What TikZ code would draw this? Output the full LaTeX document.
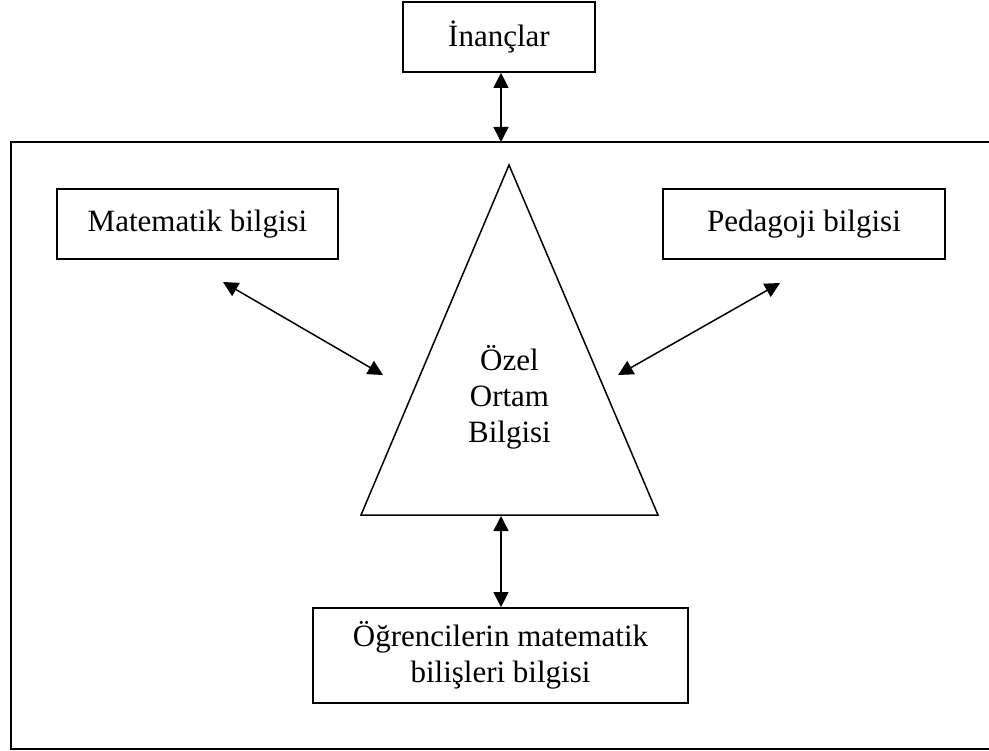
\documentclass[tikz,border=0pt]{standalone}
\usepackage{fontspec}
\setmainfont{Liberation Serif}
\usetikzlibrary{arrows.meta}
\begin{document}
\begin{tikzpicture}[x=1pt,y=-1pt,
  box/.style={draw,line width=1.8pt,inner sep=0pt,align=center,font=\fontsize{31}{36}\selectfont},
  lbl/.style={inner sep=0pt,align=center,font=\fontsize{31}{36}\selectfont},
  conn/.style={line width=1.5pt,{Triangle[length=15pt,width=15pt]}-{Triangle[length=15pt,width=15pt]}}]
\useasboundingbox (0,0) rectangle (989,751);
\fill[white] (0,0) rectangle (989,751);
% outer frame
\draw[line width=1.8pt] (11,142) rectangle (992,749);
% boxes
\node[box,minimum width=192pt,minimum height=70pt] (inanc) at (499,37) {İnançlar};
\node[box,minimum width=281pt,minimum height=70pt] (mat) at (197.5,224) {Matematik bilgisi};
\node[box,minimum width=282pt,minimum height=70pt] (ped) at (804,224) {Pedagoji bilgisi};
\node[box,minimum width=375pt,minimum height=95pt] (ogr) at (500.5,655.5) {Öğrencilerin matematik\\bilişleri bilgisi};
% triangle
\coordinate (apex) at (509,165);
\coordinate (bl) at (361,515);
\coordinate (br) at (658,515);
\draw[line width=1.5pt,line join=miter] (apex) -- (bl) -- (br) -- cycle;
\node[lbl] (ozel) at (509.5,397) {Özel\\Ortam\\Bilgisi};
% connectors
\coordinate (ftop) at (501,142);
\draw[conn] (inanc.south -| ftop) -- (ftop);
\coordinate (mA) at (223,282);
\coordinate (mB) at (383,375);
\draw[conn] (mA) -- (mB);
\coordinate (pA) at (780,283);
\coordinate (pB) at (618,375);
\draw[conn] (pA) -- (pB);
\coordinate (tb) at (501,516);
\draw[conn] (tb) -- (ogr.north -| tb);
\end{tikzpicture}
\end{document}
